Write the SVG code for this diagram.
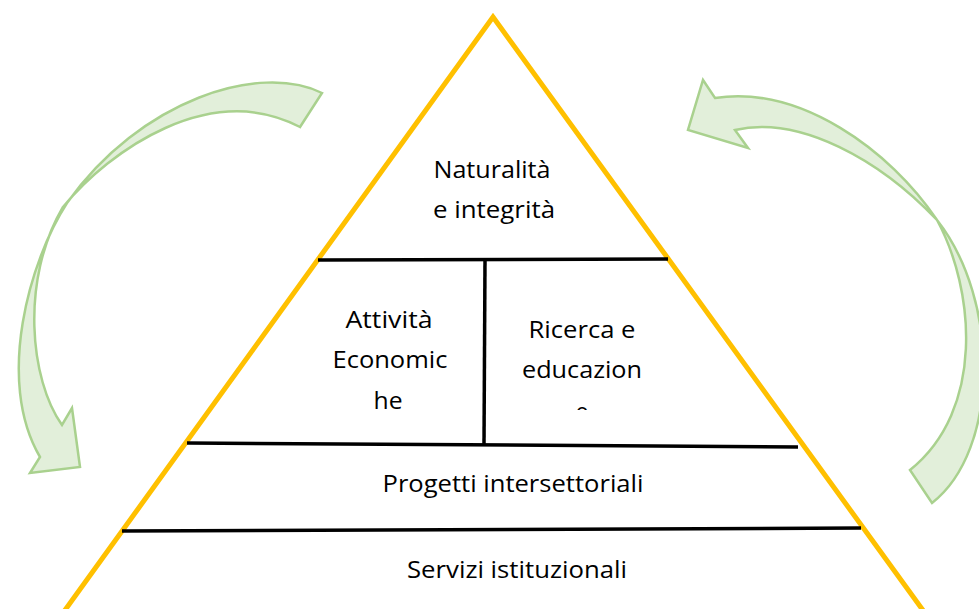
<svg xmlns="http://www.w3.org/2000/svg" width="979" height="609" viewBox="0 0 979 609">
<style>
.arrow{fill:#E2EFDA;stroke:#A9D18E;stroke-width:2.5;stroke-linejoin:miter}
.tri{fill:none;stroke:#FFC000;stroke-width:5;stroke-linejoin:miter}
.sep{stroke:#000;stroke-width:3.5;fill:none}
.lbl{font-family:"Open Sans","Noto Sans","Liberation Sans",sans-serif;font-size:23px;fill:#000;text-anchor:middle}
</style>
<defs>
<clipPath id="clipRic"><rect x="490" y="300" width="200" height="110"/></clipPath>
</defs>
<rect width="979" height="609" fill="#fff"/>
<g id="arrow-left">
<path class="arrow" d="M322,93 C260,62 140,100 67,203 C30,260 -5,380 40,457 L30,473 L80,467 L72,408 L62,425 C30,380 20,280 63,207 C110,150 210,80 300,127 Z"/>
</g>
<g id="arrow-right">
<path class="arrow" d="M932,503 C1000,450 1000,300 937,220 C890,150 800,85 715,98 L703,80 L688,130 L748,148 L735,130 C800,115 880,160 937,220 C975,290 985,410 910,470 Z"/>
</g>
<g id="pyramid">
<polygon class="tri" points="493,17 959,660 29,660"/>
</g>
<g id="connectors">
<line class="sep" x1="318" y1="260" x2="668" y2="259"/>
<line class="sep" x1="485" y1="260" x2="484" y2="444"/>
<line class="sep" x1="187" y1="443" x2="798" y2="447"/>
<line class="sep" x1="122" y1="531" x2="861" y2="528"/>
</g>
<g id="node-naturalita">
<text class="lbl" x="492" y="178" textLength="117" lengthAdjust="spacingAndGlyphs">Naturalità</text>
<text class="lbl" x="494" y="218" textLength="122" lengthAdjust="spacingAndGlyphs">e integrità</text>
</g>
<g id="node-attivita">
<text class="lbl" x="389" y="328" textLength="87" lengthAdjust="spacingAndGlyphs">Attività</text>
<text class="lbl" x="390" y="368" textLength="115" lengthAdjust="spacingAndGlyphs">Economic</text>
<text class="lbl" x="388" y="409" textLength="29" lengthAdjust="spacingAndGlyphs">he</text>
</g>
<g id="node-ricerca">
<text class="lbl" x="582" y="338" textLength="107" lengthAdjust="spacingAndGlyphs">Ricerca e</text>
<text class="lbl" x="582" y="378" textLength="120" lengthAdjust="spacingAndGlyphs">educazion</text>
<text class="lbl" x="582" y="420" clip-path="url(#clipRic)">e</text>
</g>
<g id="node-progetti">
<text class="lbl" x="513" y="492" textLength="261" lengthAdjust="spacingAndGlyphs">Progetti intersettoriali</text>
</g>
<g id="node-servizi">
<text class="lbl" x="517" y="578" textLength="220" lengthAdjust="spacingAndGlyphs">Servizi istituzionali</text>
</g>
</svg>
